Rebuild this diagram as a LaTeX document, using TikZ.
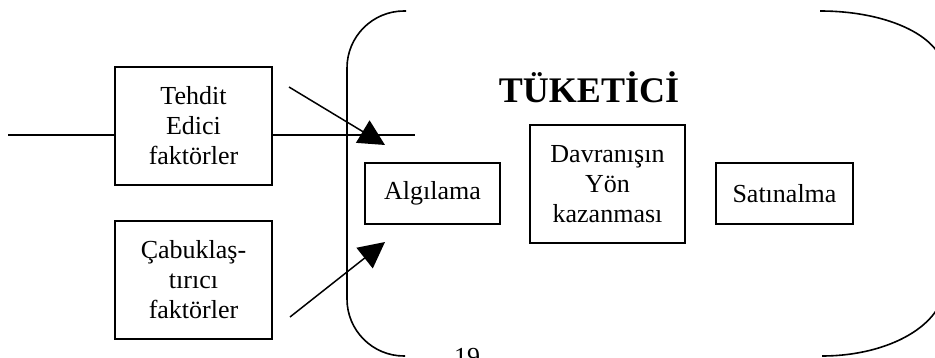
\documentclass[tikz,border=0pt]{standalone}
\usepackage{fontspec}
\setmainfont{Liberation Serif}
\usetikzlibrary{arrows.meta}
\begin{document}
\begin{tikzpicture}[x=1pt,y=-1pt,
  box/.style={draw,line width=1.5pt,inner sep=0pt,align=center,
    font=\fontsize{26}{30}\selectfont},
  feed/.style={line width=1.5pt,-{Triangle[length=26pt,width=26pt]}},
  rail/.style={line width=1.2pt},
  brace/.style={line width=1.6pt}]
\clip (0,0) rectangle (935,358);
\useasboundingbox (0,0) rectangle (935,358);

% factor boxes on the left
\node[box,minimum width=157pt,minimum height=118pt] (teh) at (193.5,126) {Tehdit\\Edici\\faktörler};
\node[box,minimum width=157pt,minimum height=118pt] (cab) at (193.5,280) {Çabuklaş-\\tırıcı\\faktörler};

% consumer bracket: left half
\draw[brace,rounded corners=57pt] (406,11) -- (347,11) -- (347,356) -- (405,356);
% consumer bracket: right half, its upright side beyond the page edge
\draw[brace] (820,11) .. controls (890,11) and (944,38) .. (944,72)
  -- (944,286) .. controls (944,324) and (890,356) .. (822,356);

\node[font=\bfseries\fontsize{36}{40}\selectfont,anchor=base] (title) at (589,103) {TÜKETİCİ};

% stages inside the consumer
\node[box,minimum width=135pt,minimum height=61pt] (alg) at (432.5,193.5) {Algılama};
\node[box,minimum width=155pt,minimum height=118pt] (dav) at (607.5,184) {Davranışın\\Yön\\kazanması};
\node[box,minimum width=137pt,minimum height=61pt] (sat) at (784.5,193.5) {Satınalma};

% horizontal rail through the threat box
\coordinate (railL) at (8,135);
\coordinate (railR) at (415,135);
\draw[rail] (railL) -- (railL -| teh.west);
\draw[rail] (railR -| teh.east) -- (railR);

% arrows into the consumer
\coordinate (a1s) at (289,87);
\coordinate (a1e) at (385,145);
\coordinate (a2s) at (290,317);
\coordinate (a2e) at (385,242);
\draw[feed] (a1s) -- (a1e);
\draw[feed] (a2s) -- (a2e);

% page number
\node[font=\fontsize{26}{30}\selectfont,anchor=base] (pg) at (467,365) {19};
\end{tikzpicture}
\end{document}
